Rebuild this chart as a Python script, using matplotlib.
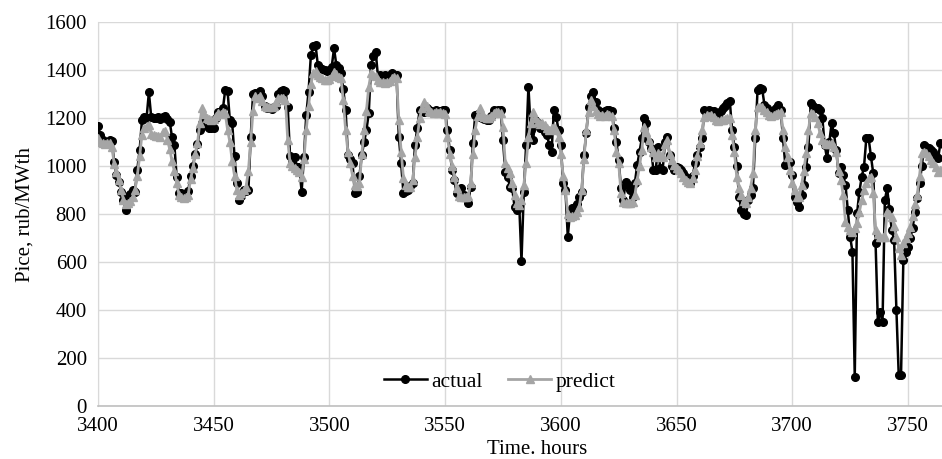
import matplotlib
matplotlib.use("Agg")
import matplotlib.pyplot as plt
import numpy as np

start_hour = 3400
actual = [
    1165, 1130, 1108, 1100, 1094, 1110, 1105, 1015, 962, 935,
    893, 858, 815, 875, 885, 900, 893, 985, 1065, 1190,
    1205, 1200, 1307, 1205, 1200, 1200, 1205, 1198, 1205, 1210,
    1195, 1185, 1120, 1088, 955, 886, 886, 880, 885, 895,
    960, 1000, 1050, 1090, 1150, 1180, 1192, 1165, 1160, 1157,
    1160, 1200, 1225, 1215, 1240, 1318, 1312, 1190, 1178, 1040,
    930, 858, 875, 900, 895, 900, 1120, 1300, 1305, 1300,
    1312, 1290, 1250, 1240, 1240, 1238, 1245, 1250, 1300, 1312,
    1315, 1312, 1245, 1040, 1018, 1039, 997, 997, 893, 1039,
    1213, 1310, 1462, 1500, 1505, 1421, 1410, 1405, 1400, 1395,
    1400, 1414, 1490, 1421, 1410, 1386, 1320, 1233, 1046, 1030,
    1011, 886, 890, 960, 1046, 1100, 1150, 1220, 1421, 1460,
    1476, 1372, 1380, 1375, 1379, 1350, 1380, 1386, 1372, 1380,
    1122, 1011, 886, 895, 900, 915, 930, 1088, 1160, 1233,
    1230, 1226, 1240, 1235, 1230, 1225, 1232, 1228, 1230, 1235,
    1232, 1150, 1067, 983, 942, 886, 900, 907, 880, 872,
    844, 914, 1094, 1212, 1215, 1205, 1199, 1195, 1192, 1190,
    1210, 1233, 1230, 1235, 1233, 1108, 976, 955, 914, 907,
    830, 817, 844, 604, 893, 1088, 1331, 1150, 1108, 1190,
    1178, 1157, 1164, 1140, 1129, 1088, 1060, 1233, 1206, 1150,
    1088, 928, 900, 706, 810, 825, 831, 840, 870, 893,
    1046, 1136, 1247, 1290, 1310, 1268, 1235, 1226, 1225, 1230,
    1233, 1235, 1230, 1157, 1100, 1025, 907, 858, 935, 920,
    900, 872, 930, 1004, 1060, 1115, 1199, 1180, 1100, 1074,
    983, 983, 1081, 990, 983, 1100, 1122, 1046, 1000, 983,
    997, 990, 983, 970, 955, 940, 928, 960, 1011, 1046,
    1080, 1115, 1233, 1230, 1233, 1230, 1228, 1210, 1205, 1230,
    1240, 1250, 1261, 1272, 1150, 1081, 1000, 872, 817, 800,
    796, 858, 880, 907, 1115, 1317, 1324, 1320, 1254, 1240,
    1226, 1230, 1233, 1240, 1254, 1233, 1115, 1004, 1010, 1018,
    962, 872, 850, 831, 880, 921, 997, 1081, 1261, 1250,
    1240, 1240, 1233, 1199, 1088, 1032, 1100, 1178, 1136, 1067,
    969, 997, 962, 921, 817, 706, 643, 122, 803, 893,
    955, 997, 1115, 1115, 1040, 969, 678, 351, 393, 351,
    858, 907, 820, 733, 692, 400, 129, 129, 608, 640,
    664, 700, 740, 810, 865, 928, 1000, 1088, 1080, 1074,
    1065, 1060, 1040, 1032, 1094, 1090,
]
predict = [
    1115, 1100, 1095, 1090, 1094, 1095, 1080, 1010, 975, 940,
    900, 860, 840, 845, 855, 870, 900, 960, 1040, 1130,
    1160, 1165, 1170, 1135, 1130, 1125, 1125, 1120, 1140, 1145,
    1110, 1070, 1020, 980, 930, 880, 870, 865, 870, 880,
    945, 990, 1050, 1094, 1180, 1240, 1215, 1200, 1195, 1190,
    1195, 1210, 1220, 1215, 1225, 1220, 1150, 1100, 1020, 960,
    900, 880, 886, 900, 914, 980, 1100, 1230, 1290, 1285,
    1290, 1270, 1250, 1247, 1245, 1247, 1250, 1265, 1282, 1285,
    1282, 1275, 1108, 1011, 1000, 990, 985, 975, 955, 1030,
    1150, 1250, 1340, 1386, 1395, 1380, 1370, 1365, 1360, 1358,
    1362, 1375, 1393, 1385, 1372, 1365, 1275, 1150, 1060, 1011,
    960, 921, 918, 930, 1050, 1150, 1230, 1330, 1386, 1379,
    1375, 1360, 1351, 1350, 1348, 1350, 1355, 1365, 1372, 1365,
    1192, 1060, 950, 920, 914, 912, 940, 1039, 1120, 1200,
    1240, 1268, 1250, 1230, 1225, 1222, 1225, 1222, 1225, 1220,
    1215, 1122, 1050, 1000, 955, 910, 875, 870, 872, 870,
    875, 930, 1050, 1150, 1210, 1240, 1215, 1206, 1200, 1199,
    1210, 1220, 1226, 1225, 1220, 1164, 1011, 990, 969, 930,
    880, 844, 838, 860, 920, 1011, 1120, 1180, 1226, 1200,
    1185, 1175, 1180, 1170, 1160, 1150, 1160, 1164, 1150, 1120,
    1050, 960, 900, 800, 786, 790, 795, 810, 831, 900,
    1030, 1150, 1226, 1275, 1250, 1230, 1215, 1210, 1212, 1210,
    1215, 1212, 1210, 1150, 1060, 1011, 886, 850, 845, 844,
    845, 848, 880, 942, 1000, 1067, 1164, 1140, 1108, 1081,
    1060, 1039, 1053, 1045, 1039, 1090, 1108, 1050, 1025, 1005,
    990, 983, 970, 955, 942, 935, 928, 950, 983, 1040,
    1094, 1150, 1206, 1212, 1210, 1212, 1205, 1190, 1188, 1190,
    1192, 1195, 1199, 1199, 1130, 1060, 955, 910, 880, 855,
    844, 870, 910, 969, 1150, 1247, 1247, 1245, 1235, 1225,
    1212, 1210, 1212, 1215, 1220, 1226, 1150, 1080, 1039, 983,
    930, 900, 872, 872, 920, 980, 1053, 1150, 1220, 1215,
    1206, 1180, 1136, 1110, 1094, 1090, 1092, 1094, 1080, 1060,
    980, 942, 879, 768, 747, 735, 726, 740, 761, 810,
    858, 900, 930, 950, 955, 886, 733, 715, 706, 705,
    706, 810, 800, 789, 750, 706, 660, 629, 678, 700,
    720, 745, 790, 840, 880, 960, 1053, 1060, 1053, 1040,
    1025, 1011, 995, 976, 985, 990,
]
hours = np.arange(start_hour, start_hour + len(actual))
x_ticks = [3400, 3450, 3500, 3550, 3600, 3650, 3700, 3750]
y_ticks = [0, 200, 400, 600, 800, 1000, 1200, 1400, 1600]

plt.rcParams['font.family'] = ['Liberation Serif', 'DejaVu Serif']

fig = plt.figure(figsize=(9.42, 4.59), dpi=100)
ax = fig.add_axes([0.104, 0.1155, 0.896, 0.8365])

ax.plot(hours, actual, color='black', linewidth=1.8, marker='o', markersize=5.5,
        label='actual', zorder=3)
ax.plot(hours, predict, color='#A5A5A5', linewidth=2.0, marker='^', markersize=5.5,
        label='predict', zorder=4)

ax.set_xlim(3400, 3764.7)
ax.set_ylim(0, 1600)
ax.set_xticks(x_ticks)
ax.set_yticks(y_ticks)
ax.tick_params(axis='both', length=0, labelsize=15, colors='black', pad=8)
ax.grid(True, color='#D9D9D9', linewidth=1)
ax.set_axisbelow(True)
for s in ['top', 'right']:
    ax.spines[s].set_visible(False)
ax.spines['left'].set_color('#D9D9D9')
ax.spines['bottom'].set_color('#BFBFBF')
ax.spines['bottom'].set_linewidth(1.2)

ax.set_xlabel('Time. hours', fontsize=15)
ax.xaxis.set_label_coords(0.52, -0.088)
ax.set_ylabel('Pice, rub/MWth', fontsize=15, labelpad=8)

ax.legend(loc='center', bbox_to_anchor=(0.476, 0.0625), ncol=2, frameon=False,
          fontsize=15.5, handlelength=2.0, columnspacing=1.2, handletextpad=0.2,
          borderpad=0)

fig.savefig('out.png', dpi=100)
